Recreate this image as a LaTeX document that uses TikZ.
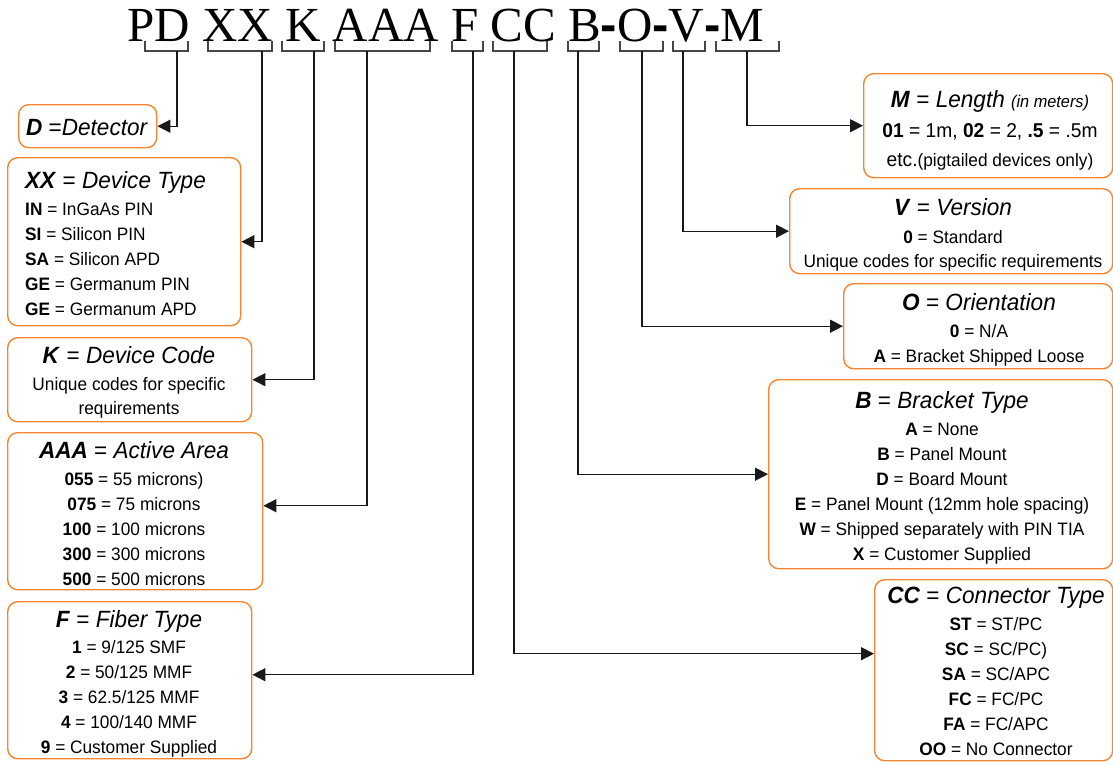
\documentclass[tikz,border=0pt]{standalone}
\usepackage{fontspec}
\setmainfont[FakeStretch=0.96]{Liberation Sans}
\newfontfamily\titlefont{Liberation Serif}
\newfontfamily\hyfont{Liberation Sans}
\usetikzlibrary{arrows.meta}
\definecolor{boxorange}{RGB}{247,133,48}
\definecolor{linegray}{RGB}{70,70,70}
\definecolor{conncol}{RGB}{25,25,25}
\newcommand{\bi}[1]{\textbf{\textit{#1}}}
\newcommand{\thy}{{\hyfont\bfseries -}}
\begin{document}
\begin{tikzpicture}[x=1pt,y=-1pt,
  box/.style={draw=boxorange, line width=1.4pt, rounded corners=10pt, inner sep=0pt, anchor=north west},
  conn/.style={draw=conncol, line width=1.4pt, -{Triangle[length=13pt,width=13pt]}},
  brk/.style={draw=linegray, line width=1.3pt},
  body/.style={inner sep=0pt, font=\fontsize{18}{20}\selectfont},
  ttl/.style={inner sep=0pt, font=\fontsize{23.5}{26}\selectfont},
]
\useasboundingbox (0,0) rectangle (1113,764);

% title code
\node[inner sep=0pt, anchor=base west, font=\titlefont\fontsize{49}{49}\selectfont] (code) at (127,41)
  {PD XX K AAA F CC B\thy O\thy V\thy M};

% brackets under code groups
\foreach \a/\b/\s/\n in {145/188/177/PD, 208/272/262/XX, 282/324/314/K, 335/430/367/AAA,
  452/483/473/F, 493/547/514/CC, 568/599/578/B, 620/663/642/O, 673/705/683/V, 716/779/747/M}{
  \draw[brk] (\a,41) -- (\a,51) -- (\b,51) -- (\b,41);
  \coordinate (s\n) at (\s,51);
}

% boxes
\node[box, minimum width=138pt, minimum height=43pt] (bPD) at (18,104) {};
\node[box, minimum width=233pt, minimum height=168pt] (bXX) at (7,157) {};
\node[box, minimum width=244pt, minimum height=84pt] (bK) at (7,337) {};
\node[box, minimum width=255pt, minimum height=157pt] (bAAA) at (7,432) {};
\node[box, minimum width=244pt, minimum height=157pt] (bF) at (7,601) {};
\node[box, minimum width=249pt, minimum height=104pt] (bM) at (863,73) {};
\node[box, minimum width=323pt, minimum height=85pt] (bV) at (789,188) {};
\node[box, minimum width=269pt, minimum height=85pt] (bO) at (843,283) {};
\node[box, minimum width=344pt, minimum height=189pt] (bB) at (768,379) {};
\node[box, minimum width=238pt, minimum height=181pt] (bCC) at (874,579) {};

% connectors
\draw[conn] (sPD) |- (bPD.east);
\draw[conn] (sXX) |- (bXX.east);
\draw[conn] (sK) |- (bK.east);
\draw[conn] (sAAA) |- ([yshift=5.5pt]bAAA.east);
\draw[conn] (sF) |- ([yshift=5.5pt]bF.east);
\draw[conn] (sCC) |- ([yshift=16.5pt]bCC.west);
\draw[conn] (sB) |- (bB.west);
\draw[conn] (sO) |- (bO.west);
\draw[conn] (sV) |- (bV.west);
\draw[conn] (sM) |- (bM.west);

% D box
\node[ttl, anchor=base] (tPD) at (87,135) {\bi{D} =\textit{Detector}};

% XX box
\node[ttl, anchor=base west] (tXX) at (25,188) {\bi{XX} = \textit{Device Type}};
\foreach \t [count=\i] in {{\textbf{IN} = InGaAs PIN}, {\textbf{SI} = Silicon PIN},
  {\textbf{SA} = Silicon APD}, {\textbf{GE} = Germanum PIN}, {\textbf{GE} = Germanum APD}}
  \node[body, anchor=base west] (xx\i) at (25,190+25*\i) {\t};

% K box
\node[ttl, anchor=base] (tK) at (129,363) {\bi{K} = \textit{Device Code}};
\node[body, anchor=base] (k1) at (129,390) {Unique codes for specific};
\node[body, anchor=base] (k2) at (129,414) {requirements};

% AAA box
\node[ttl, anchor=base] (tAAA) at (134,458) {\bi{AAA} = \textit{Active Area}};
\foreach \t [count=\i] in {{\textbf{055} = 55 microns)}, {\textbf{075} = 75 microns},
  {\textbf{100} = 100 microns}, {\textbf{300} = 300 microns}, {\textbf{500} = 500 microns}}
  \node[body, anchor=base] (aa\i) at (134,460+25*\i) {\t};

% F box
\node[ttl, anchor=base] (tF) at (129,627) {\bi{F} = \textit{Fiber Type}};
\foreach \t [count=\i] in {{\textbf{1} = 9/125 SMF}, {\textbf{2} = 50/125 MMF},
  {\textbf{3} = 62.5/125 MMF}, {\textbf{4} = 100/140 MMF}, {\textbf{9} = Customer Supplied}}
  \node[body, anchor=base] (ff\i) at (129,628+25*\i) {\t};

% M box
\node[ttl, anchor=base] (tM) at (990,107) {\bi{M} = \textit{Length} {\fontsize{17}{19}\selectfont\textit{(in meters)}}};
\node[body, anchor=base, font=\fontsize{20}{22}\selectfont] (m1) at (990,137)
  {\textbf{01} = 1m, \textbf{02} = 2, \textbf{.5} = .5m};
\node[body, anchor=base] (m2) at (990,166) {{\fontsize{20}{22}\selectfont etc.}(pigtailed devices only)};

% V box
\node[ttl, anchor=base] (tV) at (953,215) {\bi{V} = \textit{Version}};
\node[body, anchor=base] (v1) at (953,243) {\textbf{0} = Standard};
\node[body, anchor=base] (v2) at (953,267) {Unique codes for specific requirements};

% O box
\node[ttl, anchor=base] (tO) at (979,310) {\bi{O} = \textit{Orientation}};
\node[body, anchor=base] (o1) at (979,337) {\textbf{0} = N/A};
\node[body, anchor=base] (o2) at (979,362) {\textbf{A} = Bracket Shipped Loose};

% B box
\node[ttl, anchor=base] (tB) at (942,408) {\bi{B} = \textit{Bracket Type}};
\foreach \t [count=\i] in {{\textbf{A} = None}, {\textbf{B} = Panel Mount},
  {\textbf{D} = Board Mount}, {\textbf{E} = Panel Mount (12mm hole spacing)},
  {\textbf{W} = Shipped separately with PIN TIA}, {\textbf{X} = Customer Supplied}}
  \node[body, anchor=base] (bb\i) at (942,410+25*\i) {\t};

% CC box
\node[ttl, anchor=base] (tCC) at (996,603) {\bi{CC} = \textit{Connector Type}};
\foreach \t [count=\i] in {{\textbf{ST} = ST/PC}, {\textbf{SC} = SC/PC)},
  {\textbf{SA} = SC/APC}, {\textbf{FC} = FC/PC}, {\textbf{FA} = FC/APC},
  {\textbf{OO} = No Connector}}
  \node[body, anchor=base] (cc\i) at (996,605+25*\i) {\t};
\end{tikzpicture}
\end{document}
